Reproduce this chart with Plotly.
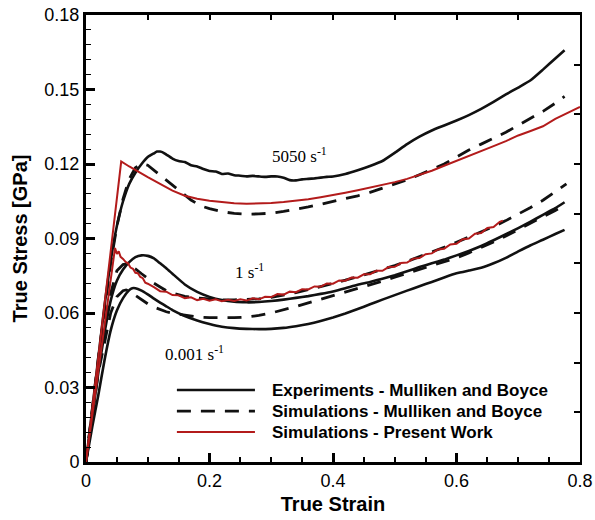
import plotly.graph_objects as go

# ---- 5050 1/s ----
exp_5050_strain = [0, 0.01, 0.02, 0.03, 0.04, 0.05, 0.06, 0.07, 0.08, 0.09, 0.10, 0.11, 0.115, 0.12,
                   0.125, 0.13, 0.14, 0.15, 0.16, 0.17, 0.18, 0.19, 0.20, 0.21, 0.22, 0.23, 0.24, 0.25,
                   0.26, 0.27, 0.28, 0.29, 0.30, 0.31, 0.32, 0.33, 0.34, 0.35, 0.36, 0.37, 0.38, 0.39,
                   0.40, 0.42, 0.44, 0.46, 0.48, 0.50, 0.52, 0.54, 0.56, 0.58, 0.60, 0.62, 0.64, 0.66,
                   0.68, 0.70, 0.72, 0.74, 0.76, 0.775]
exp_5050_stress = [0, 0.021, 0.042, 0.063, 0.081, 0.095, 0.105, 0.112, 0.1165, 0.1200, 0.1228, 0.1243,
                   0.1250, 0.1250, 0.1246, 0.1238, 0.1222, 0.1212, 0.1208, 0.1195, 0.119, 0.118, 0.1172,
                   0.117, 0.116, 0.1162, 0.1155, 0.1153, 0.115, 0.1152, 0.115, 0.1148, 0.115, 0.1150,
                   0.1145, 0.1135, 0.1134, 0.1138, 0.114, 0.1142, 0.1145, 0.1148, 0.115, 0.116, 0.1175,
                   0.1192, 0.1212, 0.1245, 0.1280, 0.131, 0.1335, 0.1355, 0.1375, 0.1397, 0.1422,
                   0.1450, 0.1480, 0.1508, 0.1537, 0.1580, 0.1625, 0.1658]

sim_5050_strain = [0, 0.02, 0.04, 0.05, 0.06, 0.07, 0.08, 0.09, 0.10, 0.11, 0.12, 0.13, 0.14, 0.15,
                   0.16, 0.17, 0.18, 0.19, 0.20, 0.22, 0.24, 0.26, 0.28, 0.30, 0.32, 0.34, 0.36, 0.38,
                   0.40, 0.42, 0.44, 0.46, 0.48, 0.50, 0.52, 0.54, 0.56, 0.58, 0.60, 0.62, 0.64, 0.66,
                   0.68, 0.70, 0.72, 0.74, 0.76, 0.775]
sim_5050_stress = [0, 0.042, 0.080, 0.095, 0.106, 0.1140, 0.1185, 0.1202, 0.1195, 0.1175, 0.1155,
                   0.1133, 0.1112, 0.1093, 0.1072, 0.1055, 0.1040, 0.1028, 0.1020, 0.1008, 0.1001,
                   0.0998, 0.0999, 0.1002, 0.1009, 0.1017, 0.1027, 0.1038, 0.1049, 0.1060, 0.1072,
                   0.1086, 0.1102, 0.1118, 0.1136, 0.1157, 0.1178, 0.1200, 0.1228, 0.1256, 0.1280,
                   0.1303, 0.1328, 0.1356, 0.1383, 0.1412, 0.1445, 0.1472]

pw_5050_strain = [0, 0.057, 0.07, 0.08, 0.09, 0.10, 0.12, 0.14, 0.16, 0.18, 0.20, 0.22, 0.24, 0.26,
                  0.28, 0.30, 0.32, 0.34, 0.36, 0.38, 0.40, 0.42, 0.44, 0.46, 0.48, 0.50, 0.52, 0.54,
                  0.56, 0.58, 0.60, 0.62, 0.64, 0.66, 0.68, 0.70, 0.72, 0.74, 0.76, 0.78, 0.80]
pw_5050_stress = [0, 0.121, 0.1190, 0.1175, 0.1160, 0.1147, 0.1120, 0.1093, 0.1072, 0.1060, 0.1052,
                  0.1046, 0.1042, 0.1040, 0.1041, 0.1043, 0.1047, 0.1052, 0.1058, 0.1066, 0.1074,
                  0.1084, 0.1094, 0.1104, 0.1115, 0.1127, 0.1140, 0.1155, 0.1173, 0.1193, 0.1212,
                  0.1232, 0.1252, 0.1272, 0.1292, 0.1315, 0.1333, 0.1352, 0.1382, 0.1406, 0.1430]

# ---- 1 1/s ----
exp_1_strain = [0, 0.01, 0.02, 0.03, 0.04, 0.05, 0.06, 0.07, 0.08, 0.09, 0.10, 0.11, 0.12, 0.13,
                0.14, 0.16, 0.18, 0.20, 0.22, 0.24, 0.26, 0.28, 0.30, 0.32, 0.34, 0.36, 0.38, 0.40,
                0.42, 0.44, 0.46, 0.48, 0.50, 0.52, 0.54, 0.56, 0.58, 0.60, 0.62, 0.64, 0.66, 0.68,
                0.70, 0.72, 0.74, 0.76, 0.775]
exp_1_stress = [0, 0.018, 0.036, 0.052, 0.065, 0.073, 0.0775, 0.0805, 0.0825, 0.0832, 0.0830,
                0.0820, 0.0800, 0.0780, 0.0758, 0.0715, 0.0685, 0.0665, 0.0652, 0.0645, 0.0643,
                0.0644, 0.0648, 0.0654, 0.0661, 0.0668, 0.0677, 0.0687, 0.0700, 0.0714, 0.0725,
                0.0738, 0.0752, 0.0768, 0.0785, 0.0800, 0.0815, 0.0832, 0.0850, 0.0870, 0.0893,
                0.0917, 0.0942, 0.0968, 0.0995, 0.1022, 0.1046]

sim_1_strain = [0, 0.02, 0.04, 0.05, 0.06, 0.065, 0.07, 0.08, 0.09, 0.10, 0.11, 0.12, 0.13, 0.14,
                0.15, 0.16, 0.18, 0.20, 0.22, 0.24, 0.26, 0.28, 0.30, 0.32, 0.34, 0.36, 0.38, 0.40,
                0.42, 0.44, 0.46, 0.48, 0.50, 0.52, 0.54, 0.56, 0.58, 0.60, 0.62, 0.64, 0.66, 0.68,
                0.70, 0.72, 0.74, 0.76, 0.778]
sim_1_stress = [0, 0.040, 0.068, 0.0770, 0.0795, 0.0798, 0.0794, 0.0778, 0.0758, 0.0738, 0.0720,
                0.0705, 0.0690, 0.0680, 0.0672, 0.0667, 0.0660, 0.0655, 0.0653, 0.0653, 0.0654,
                0.0657, 0.0663, 0.0672, 0.0682, 0.0694, 0.0706, 0.0719, 0.0732, 0.0746, 0.0760,
                0.0775, 0.0791, 0.0808, 0.0826, 0.0845, 0.0865, 0.0885, 0.0905, 0.0926, 0.0948,
                0.0972, 0.0998, 0.1025, 0.1054, 0.1088, 0.1120]

pw_1_strain = [0, 0.047, 0.050, 0.053, 0.056, 0.060, 0.064, 0.068, 0.072, 0.076, 0.080, 0.084,
               0.088, 0.092, 0.096, 0.10, 0.11, 0.12, 0.13, 0.14, 0.15, 0.16, 0.17, 0.18, 0.19,
               0.20, 0.21, 0.22, 0.23, 0.24, 0.25, 0.26, 0.27, 0.28, 0.29, 0.30, 0.31, 0.32, 0.33,
               0.34, 0.35, 0.36, 0.37, 0.38, 0.39, 0.40, 0.41, 0.42, 0.43, 0.44, 0.45, 0.46, 0.47,
               0.48, 0.49, 0.50, 0.51, 0.52, 0.53, 0.54, 0.55, 0.56, 0.57, 0.58, 0.59, 0.60, 0.61,
               0.62, 0.63, 0.64, 0.65, 0.66, 0.67, 0.675]
pw_1_stress = [0, 0.0862, 0.0838, 0.0848, 0.0826, 0.0818, 0.0806, 0.0800, 0.0783, 0.0778, 0.0762,
               0.0760, 0.0745, 0.0740, 0.0722, 0.0718, 0.0704, 0.0688, 0.0686, 0.0672, 0.0671,
               0.0660, 0.0663, 0.0652, 0.0657, 0.0649, 0.0655, 0.0647, 0.0653, 0.0648, 0.0655,
               0.0650, 0.0659, 0.0655, 0.0665, 0.0664, 0.0676, 0.0674, 0.0686, 0.0684, 0.0696,
               0.0695, 0.0707, 0.0706, 0.0719, 0.0718, 0.0731, 0.0730, 0.0743, 0.0742, 0.0756,
               0.0756, 0.0770, 0.0770, 0.0785, 0.0786, 0.0801, 0.0803, 0.0819, 0.0821, 0.0837,
               0.0840, 0.0856, 0.0859, 0.0876, 0.0879, 0.0897, 0.0900, 0.0919, 0.0922, 0.0942,
               0.0946, 0.0967, 0.0972]

# ---- 0.001 1/s ----
exp_001_strain = [0, 0.01, 0.02, 0.03, 0.04, 0.05, 0.06, 0.07, 0.075, 0.08, 0.09, 0.10, 0.11, 0.12,
                  0.13, 0.14, 0.16, 0.18, 0.20, 0.22, 0.24, 0.26, 0.28, 0.30, 0.32, 0.34, 0.36,
                  0.38, 0.40, 0.42, 0.44, 0.46, 0.48, 0.50, 0.52, 0.54, 0.56, 0.58, 0.60, 0.62,
                  0.64, 0.66, 0.68, 0.70, 0.72, 0.74, 0.76, 0.775]
exp_001_stress = [0, 0.014, 0.027, 0.041, 0.053, 0.061, 0.066, 0.0692, 0.0700, 0.0700, 0.0690,
                  0.0675, 0.0658, 0.0642, 0.0627, 0.0612, 0.0588, 0.0570, 0.0556, 0.0545, 0.0539,
                  0.0536, 0.0535, 0.0536, 0.0540, 0.0547, 0.0556, 0.0568, 0.0582, 0.0598, 0.0616,
                  0.0635, 0.0654, 0.0672, 0.0690, 0.0708, 0.0725, 0.0743, 0.0760, 0.0771, 0.0782,
                  0.0800, 0.0822, 0.0848, 0.0873, 0.0895, 0.0918, 0.0935]

sim_001_strain = [0, 0.02, 0.04, 0.05, 0.06, 0.065, 0.07, 0.08, 0.09, 0.10, 0.11, 0.12, 0.13, 0.14,
                  0.16, 0.18, 0.20, 0.22, 0.24, 0.26, 0.28, 0.30, 0.32, 0.34, 0.36, 0.38, 0.40,
                  0.42, 0.44, 0.46, 0.48, 0.50, 0.52, 0.54, 0.56, 0.58, 0.60, 0.62, 0.64, 0.66,
                  0.68, 0.70, 0.72, 0.74, 0.76, 0.775]
sim_001_stress = [0, 0.036, 0.060, 0.0665, 0.0690, 0.0693, 0.0688, 0.0670, 0.0652, 0.0637, 0.0624,
                  0.0614, 0.0605, 0.0599, 0.0590, 0.0584, 0.0581, 0.0580, 0.0581, 0.0584, 0.0590,
                  0.0600, 0.0612, 0.0626, 0.0641, 0.0655, 0.0669, 0.0683, 0.0697, 0.0712, 0.0728,
                  0.0744, 0.0760, 0.0776, 0.0793, 0.0807, 0.0822, 0.0842, 0.0863, 0.0886, 0.0910,
                  0.0935, 0.0962, 0.0988, 0.1013, 0.1034]

# strain-rate labels: (text, strain, stress)
rate_labels = [("5050 s<sup>-1</sup>", 0.345, 0.1235),
               ("1 s<sup>-1</sup>", 0.265, 0.0770),
               ("0.001 s<sup>-1</sup>", 0.175, 0.0440)]

legend_names = ["Experiments - Mulliken and Boyce",
                "Simulations - Mulliken and Boyce",
                "Simulations - Present Work"]

BLACK = "#111111"
RED = "#B31B1B"
DASH = "14px,10px"

fig = go.Figure()

exp_sets = [(exp_5050_strain, exp_5050_stress), (exp_1_strain, exp_1_stress),
            (exp_001_strain, exp_001_stress)]
sim_sets = [(sim_5050_strain, sim_5050_stress), (sim_1_strain, sim_1_stress),
            (sim_001_strain, sim_001_stress)]
pw_sets = [(pw_5050_strain, pw_5050_stress), (pw_1_strain, pw_1_stress)]

for xs, ys in exp_sets:
    fig.add_trace(go.Scatter(x=xs, y=ys, mode="lines", showlegend=False,
                             line=dict(color=BLACK, width=2.6, shape="spline", smoothing=0.4)))
for xs, ys in sim_sets:
    fig.add_trace(go.Scatter(x=xs, y=ys, mode="lines", showlegend=False,
                             line=dict(color=BLACK, width=2.8, dash=DASH)))
for xs, ys in pw_sets:
    fig.add_trace(go.Scatter(x=xs, y=ys, mode="lines", showlegend=False,
                             line=dict(color=RED, width=2)))

# carrier for the top / right frame axes
fig.add_trace(go.Scatter(x=[None], y=[None], xaxis="x2", yaxis="y2",
                         showlegend=False, hoverinfo="skip"))

tick_font = dict(family="Liberation Sans, Arial", size=18, color="black")
title_font = dict(family="Liberation Sans, Arial", size=20, color="black")

fig.update_layout(
    width=595, height=520,
    margin=dict(l=86, r=15, t=15, b=58, autoexpand=False),
    paper_bgcolor="white", plot_bgcolor="white",
    showlegend=False,
    xaxis=dict(range=[0, 0.8], tick0=0, dtick=0.2, ticks="inside", ticklen=9, tickwidth=2.5,
               tickcolor="black", showline=True, linewidth=3, linecolor="black",
               showgrid=False, zeroline=False, mirror=False, tickfont=tick_font,
               automargin=False,
               minor=dict(dtick=0.05, ticks="inside", ticklen=5, tickwidth=1.5, tickcolor="black"),
               title=dict(text="<b>True Strain</b>", font=title_font, standoff=8)),
    yaxis=dict(range=[0, 0.18], tick0=0, dtick=0.03, ticks="inside", ticklen=9, tickwidth=2.5,
               tickcolor="black", showline=True, linewidth=3, linecolor="black",
               showgrid=False, zeroline=False, mirror=False, tickfont=tick_font,
               automargin=False,
               minor=dict(dtick=0.006, ticks="inside", ticklen=5, tickwidth=1.2, tickcolor="black"),
               title=dict(text="<b>True Stress [GPa]</b>", font=title_font, standoff=12)),
    xaxis2=dict(range=[0, 0.8], overlaying="x", side="top", anchor="y", tick0=0, dtick=0.1,
                ticks="inside", ticklen=5, tickwidth=2, tickcolor="black", showline=True,
                linewidth=2.5, linecolor="black", showticklabels=False, showgrid=False,
                zeroline=False, automargin=False),
    yaxis2=dict(range=[0, 0.18], overlaying="y", side="right", anchor="x", tick0=0, dtick=0.02,
                ticks="inside", ticklen=6, tickwidth=2, tickcolor="black", showline=True,
                linewidth=2, linecolor="black", showticklabels=False, showgrid=False,
                zeroline=False, automargin=False),
)

for text, sx, sy in rate_labels:
    fig.add_annotation(x=sx, y=sy, xref="x", yref="y", text=text, showarrow=False,
                       font=dict(family="Liberation Serif, Times New Roman", size=17, color="black"))

# hand-drawn legend (long sample lines)
legend_rows = [0.161, 0.114, 0.067]
legend_styles = [dict(color=BLACK, width=2.6),
                 dict(color=BLACK, width=2.8, dash=DASH),
                 dict(color=RED, width=2)]
for name, yrow, style in zip(legend_names, legend_rows, legend_styles):
    fig.add_shape(type="line", xref="paper", yref="paper", x0=0.184, x1=0.342,
                  y0=yrow, y1=yrow, line=style)
    fig.add_annotation(x=0.372, y=yrow, xref="paper", yref="paper", xanchor="left",
                       yanchor="middle", text="<b>" + name + "</b>", showarrow=False,
                       font=dict(family="Liberation Sans, Arial", size=17, color="black"))

fig.write_html("out.html")
